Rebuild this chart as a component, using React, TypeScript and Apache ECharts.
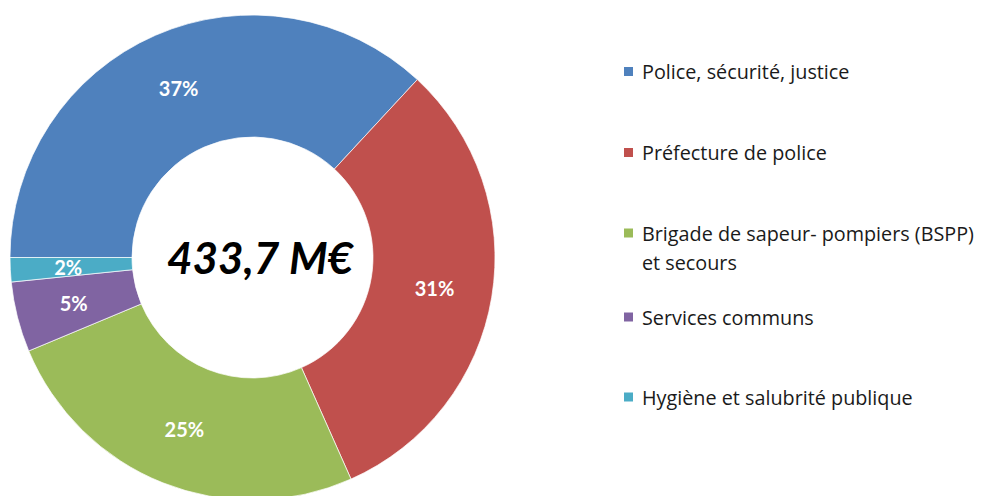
import React, { useEffect, useRef } from "react";
import * as echarts from "echarts";

const categories = [
  "Police, sécurité, justice",
  "Préfecture de police",
  "Brigade de sapeur- pompiers (BSPP) et secours",
  "Services communs",
  "Hygiène et salubrité publique",
];
const legendLabels = [
  "Police, sécurité, justice",
  "Préfecture de police",
  "\nBrigade de sapeur- pompiers (BSPP)\net secours",
  "Services communs",
  "Hygiène et salubrité publique",
];
const values = [160.0, 136.4, 110.0, 20.3, 7.0]; // M€
const colors = ["#4F81BD", "#C0504D", "#9BBB59", "#8064A2", "#4BACC6"];
const totalLabel = "433,7 M€";
const legendCenters = [71.5, 152.5, 233, 317, 397];

export default function App() {
  const ref = useRef<HTMLDivElement>(null);
  useEffect(() => {
    if (!ref.current) return;
    const chart = echarts.init(ref.current, undefined, { renderer: "svg" });
    const lineH = 29;
    const legends = categories.map((name, i) => {
      const lines = legendLabels[i].split("\n").length;
      return {
        data: [name],
        left: 622,
        top: legendCenters[i] - (lines * lineH) / 2,
        orient: "vertical",
        padding: 0,
        icon: "rect",
        itemWidth: 11,
        itemHeight: 11,
        selectedMode: false,
        formatter: () => legendLabels[i],
        textStyle: {
          fontFamily: "Open Sans",
          fontSize: 19.8,
          color: "#1a1a1a",
          lineHeight: lineH,
          padding: [0, 0, 0, 3],
        },
      };
    });
    chart.setOption({
      animation: false,
      color: colors,
      legend: legends,
      graphic: [
        {
          type: "text",
          x: 260,
          y: 257,
          style: {
            text: totalLabel,
            fontFamily: "Lato",
            fontSize: 44,
            fontWeight: "bold",
            fontStyle: "italic",
            fill: "#000",
            align: "center",
            verticalAlign: "middle",
          },
        },
      ],
      series: [
        {
          type: "pie",
          center: [252.5, 257.5],
          radius: [120.5, 242.5],
          startAngle: 180,
          clockwise: true,
          avoidLabelOverlap: false,
          itemStyle: { borderColor: "#ffffff", borderWidth: 0.7 },
          label: {
            show: true,
            position: "inside",
            formatter: (p: any) => Math.round(p.percent) + "%",
            color: "#ffffff",
            fontFamily: "Lato",
            fontWeight: "bold",
            fontSize: 20,
          },
          labelLine: { show: false },
          emphasis: { disabled: true },
          data: categories.map((name, i) => ({ name, value: values[i] })),
        },
      ],
    });
    return () => chart.dispose();
  }, []);
  return (
    <div
      ref={ref}
      style={{ position: "fixed", left: 0, top: 0, width: 984, height: 496, background: "#fff" }}
    />
  );
}
